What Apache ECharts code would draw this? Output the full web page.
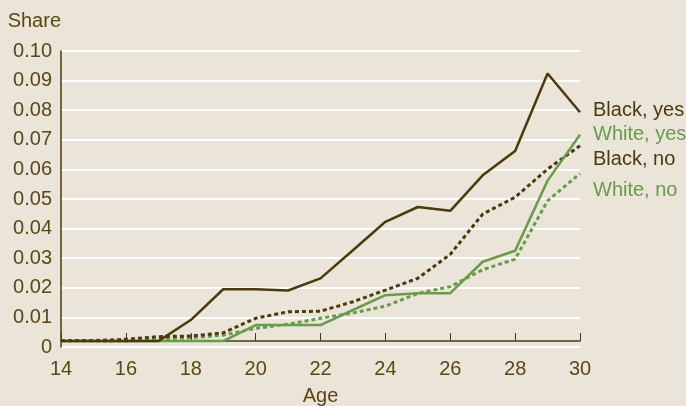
<!DOCTYPE html>
<html>
<head>
<meta charset="utf-8">
<script src="https://cdn.jsdelivr.net/npm/echarts@6/dist/echarts.min.js"></script>
<style>
  html, body { margin: 0; padding: 0; background: #ebe4d8; }
  #main { width: 686px; height: 406px; }
</style>
</head>
<body>
<div id="main"></div>
<script>
var ages = [14, 15, 16, 17, 18, 19, 20, 21, 22, 23, 24, 25, 26, 27, 28, 29, 30];
var blackYes = [0.002, 0.002, 0.002, 0.002, 0.0091, 0.0195, 0.0195, 0.0191, 0.0232, 0.0327, 0.0423, 0.0473, 0.046, 0.058, 0.0662, 0.0924, 0.0793];
var whiteYes = [0.002, 0.002, 0.002, 0.002, 0.002, 0.002, 0.0074, 0.0074, 0.0074, 0.0125, 0.0175, 0.0182, 0.0182, 0.0288, 0.0325, 0.0562, 0.0717];
var blackNo = [0.0022, 0.0022, 0.0026, 0.0035, 0.0037, 0.0048, 0.0097, 0.0119, 0.0121, 0.0153, 0.0192, 0.0232, 0.0313, 0.0449, 0.0506, 0.0601, 0.068];
var whiteNo = [0.002, 0.002, 0.002, 0.0027, 0.0031, 0.004, 0.0063, 0.0077, 0.0097, 0.0115, 0.0138, 0.0181, 0.0204, 0.0261, 0.0297, 0.0494, 0.0586];

var dark = '#4a3a0e';
var green = '#6a9a4c';
var textColor = '#5a4716';
var font = 'Liberation Sans';

function pairs(vals) {
  return ages.map(function (a, i) { return [a, vals[i]]; });
}

function line(name, vals, color, dashed, offsetY) {
  return {
    name: name,
    type: 'line',
    data: pairs(vals),
    symbol: 'none',
    silent: true,
    animation: false,
    lineStyle: {
      color: color,
      width: dashed ? 3 : 2.5,
      type: dashed ? [4, 3] : 'solid'
    },
    endLabel: {
      show: true,
      formatter: name,
      color: color,
      fontFamily: font,
      fontSize: 20,
      distance: 13,
      offset: [0, offsetY]
    }
  };
}

var chart = echarts.init(document.getElementById('main'));
chart.setOption({
  backgroundColor: '#ebe4d8',
  grid: { left: 61, right: 106, top: 51, bottom: 59, outerBoundsMode: 'none', containLabel: false },
  xAxis: {
    type: 'value',
    min: 14,
    max: 30,
    interval: 2,
    offset: -6,
    name: 'Age',
    nameLocation: 'middle',
    nameGap: 45,
    nameTextStyle: { color: textColor, fontFamily: font, fontSize: 20 },
    axisLine: { lineStyle: { color: dark, width: 1.5 } },
    axisTick: { show: true, inside: true, length: 8, lineStyle: { color: dark, width: 1 } },
    axisLabel: { color: textColor, fontFamily: font, fontSize: 20, margin: 18 },
    splitLine: { show: false }
  },
  yAxis: {
    type: 'value',
    min: 0,
    max: 0.1,
    interval: 0.01,
    name: 'Share',
    nameLocation: 'end',
    nameGap: 30,
    nameTextStyle: { color: textColor, fontFamily: font, fontSize: 20, align: 'right', verticalAlign: 'middle' },
    axisLine: { show: true, lineStyle: { color: dark, width: 1.5 } },
    axisTick: { show: false },
    axisLabel: {
      color: textColor, fontFamily: font, fontSize: 20, margin: 9,
      formatter: function (v) { return v === 0 ? '0' : v.toFixed(2); }
    },
    splitLine: { show: true, lineStyle: { color: '#ffffff', width: 2 } }
  },
  series: [
    line('White, no', whiteNo, green, true, 17),
    line('Black, no', blackNo, dark, true, 14),
    line('White, yes', whiteYes, green, false, 0),
    line('Black, yes', blackYes, dark, false, -2)
  ]
});
</script>
</body>
</html>
